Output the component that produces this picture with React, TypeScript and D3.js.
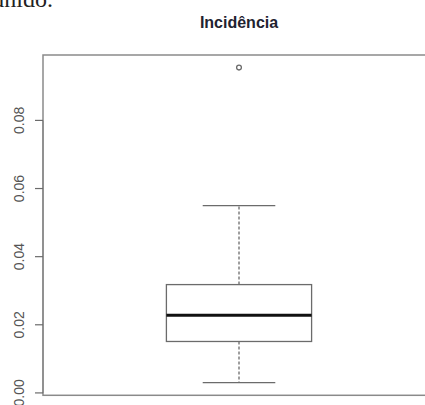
import React, { useEffect, useRef } from 'react';
import * as d3 from 'd3';

// box stats
const categories = ['Incidência'];
const whiskerLow = [0.003];
const q1 = [0.0151];
const median = [0.0228];
const q3 = [0.0318];
const whiskerHigh = [0.055];
const outliers = [0.0955];
const yTicks = [0, 0.02, 0.04, 0.06, 0.08];

const width = 425;
const height = 405;
const frame = { left: 43, right: 435, top: 55, bottom: 395.3 };
const grey = '#6b6b6b';

export default function App() {
  const ref = useRef<SVGSVGElement>(null);

  useEffect(() => {
    const svg = d3.select(ref.current);
    svg.selectAll('*').remove();

    // R style 4% padding round the data range
    const lo = d3.min([...whiskerLow, ...outliers]) as number;
    const hi = d3.max([...whiskerHigh, ...outliers]) as number;
    const pad = (hi - lo) * 0.04;
    const y = d3.scaleLinear().domain([lo - pad, hi + pad]).range([frame.bottom, frame.top]);
    const x = d3.scaleLinear().domain([0.46, 1.54]).range([frame.left, frame.right]);

    // bit of the surrounding document text
    svg.append('text')
      .attr('x', 53)
      .attr('y', 7)
      .attr('text-anchor', 'end')
      .attr('font-family', '"Liberation Serif", "Times New Roman", serif')
      .attr('font-size', 24)
      .attr('fill', '#222')
      .text('unido.');

    svg.append('text')
      .attr('x', (frame.left + frame.right) / 2)
      .attr('y', 27.7)
      .attr('text-anchor', 'middle')
      .attr('font-family', '"Liberation Sans", Arial, sans-serif')
      .attr('font-weight', 'bold')
      .attr('font-size', 16)
      .attr('fill', '#1f2330')
      .text(categories[0]);

    // frame
    svg.append('rect')
      .attr('x', frame.left)
      .attr('y', frame.top)
      .attr('width', frame.right - frame.left)
      .attr('height', frame.bottom - frame.top)
      .attr('fill', 'none')
      .attr('stroke', '#8a8a8a')
      .attr('stroke-width', 1.5);

    // y axis
    const axis = svg.append('g');
    axis.append('line')
      .attr('x1', frame.left).attr('x2', frame.left)
      .attr('y1', y(yTicks[0])).attr('y2', y(yTicks[yTicks.length - 1]))
      .attr('stroke', '#8a8a8a').attr('stroke-width', 1.5);
    axis.selectAll('line.tick')
      .data(yTicks)
      .enter()
      .append('line')
      .attr('class', 'tick')
      .attr('x1', 35).attr('x2', frame.left)
      .attr('y1', d => y(d)).attr('y2', d => y(d))
      .attr('stroke', grey).attr('stroke-width', 1.2);
    axis.selectAll('text')
      .data(yTicks)
      .enter()
      .append('text')
      .attr('transform', d => `translate(23.5, ${y(d)}) rotate(-90)`)
      .attr('text-anchor', 'middle')
      .attr('font-family', '"Liberation Sans", Arial, sans-serif')
      .attr('font-size', 14)
      .attr('fill', '#555')
      .text(d => d3.format('.2f')(d));

    const boxes = categories.map((c, i) => ({
      at: 1 + i,
      lo: whiskerLow[i], q1: q1[i], med: median[i], q3: q3[i], hi: whiskerHigh[i],
    }));

    const g = svg.selectAll('g.box').data(boxes).enter().append('g').attr('class', 'box');

    // whiskers
    g.append('line')
      .attr('x1', d => x(d.at)).attr('x2', d => x(d.at))
      .attr('y1', d => y(d.q3)).attr('y2', d => y(d.hi))
      .attr('stroke', grey).attr('stroke-width', 1.3).attr('stroke-dasharray', '3,2');
    g.append('line')
      .attr('x1', d => x(d.at)).attr('x2', d => x(d.at))
      .attr('y1', d => y(d.q1)).attr('y2', d => y(d.lo))
      .attr('stroke', grey).attr('stroke-width', 1.3).attr('stroke-dasharray', '3,2');
    // caps
    g.append('line')
      .attr('x1', d => x(d.at - 0.1)).attr('x2', d => x(d.at + 0.1))
      .attr('y1', d => y(d.hi)).attr('y2', d => y(d.hi))
      .attr('stroke', grey).attr('stroke-width', 1.3);
    g.append('line')
      .attr('x1', d => x(d.at - 0.1)).attr('x2', d => x(d.at + 0.1))
      .attr('y1', d => y(d.lo)).attr('y2', d => y(d.lo))
      .attr('stroke', grey).attr('stroke-width', 1.3);
    // box
    g.append('rect')
      .attr('x', d => x(d.at - 0.2))
      .attr('y', d => y(d.q3))
      .attr('width', d => x(d.at + 0.2) - x(d.at - 0.2))
      .attr('height', d => y(d.q1) - y(d.q3))
      .attr('fill', 'white')
      .attr('stroke', grey)
      .attr('stroke-width', 1.3);
    // median
    g.append('line')
      .attr('x1', d => x(d.at - 0.2)).attr('x2', d => x(d.at + 0.2))
      .attr('y1', d => y(d.med)).attr('y2', d => y(d.med))
      .attr('stroke', '#111').attr('stroke-width', 2.8);

    // outliers
    svg.selectAll('circle')
      .data(outliers)
      .enter()
      .append('circle')
      .attr('cx', x(1))
      .attr('cy', d => y(d))
      .attr('r', 2.4)
      .attr('fill', 'none')
      .attr('stroke', grey)
      .attr('stroke-width', 1.3);
  }, []);

  return (
    <svg
      ref={ref}
      width={width}
      height={height}
      style={{ position: 'absolute', left: 0, top: 0, background: 'white', overflow: 'hidden' }}
    />
  );
}
